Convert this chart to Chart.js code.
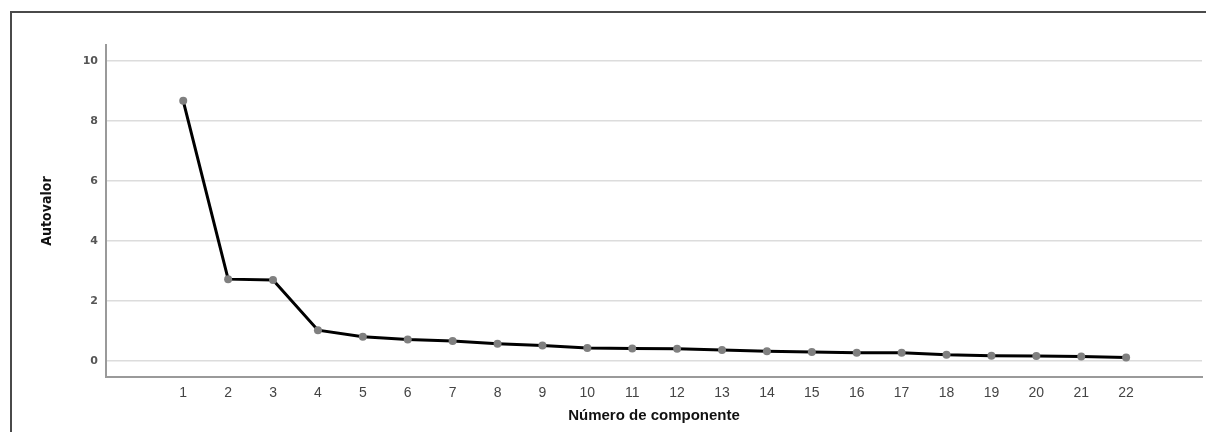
<!DOCTYPE html>
<html lang="es">
<head>
  <meta charset="UTF-8" />
  <title>Gráfico de sedimentación</title>
  <style>
    * { box-sizing: border-box; margin: 0; padding: 0; }
    body { background: #fff; width: 1206px; height: 432px; overflow: hidden; position: relative; }
    #frame {
      position: absolute;
      left: 10px;
      top: 11px;
      width: 1210px;
      height: 440px;
      border-left: 2px solid #4a4a4a;
      border-top: 2px solid #4a4a4a;
      pointer-events: none;
    }
    #chart { position: absolute; left: 0; top: 0; }
  </style>
</head>
<body>
  <canvas id="chart" width="1206" height="432"></canvas>
  <div id="frame"></div>

  <script src="https://cdn.jsdelivr.net/npm/chart.js"></script>
  <script>
    // componentes y autovalores
    const components = [1, 2, 3, 4, 5, 6, 7, 8, 9, 10, 11, 12, 13, 14, 15, 16, 17, 18, 19, 20, 21, 22];
    const eigenvalues = [8.67, 2.73, 2.70, 1.03, 0.81, 0.72, 0.67, 0.58, 0.52, 0.44, 0.42,
                         0.41, 0.37, 0.33, 0.30, 0.28, 0.28, 0.21, 0.18, 0.17, 0.15, 0.12];
    const yTicks = [0, 2, 4, 6, 8, 10];

    const points = components.map((c, i) => ({ x: c, y: eigenvalues[i] }));

    const ctx = document.getElementById('chart').getContext('2d');
    new Chart(ctx, {
      type: 'line',
      data: {
        datasets: [{
          label: 'Autovalor',
          data: points,
          borderColor: '#000',
          borderWidth: 3,
          pointBackgroundColor: '#808080',
          pointBorderWidth: 0,
          pointRadius: 4,
          tension: 0
        }]
      },
      options: {
        responsive: false,
        animation: false,
        layout: { padding: { left: 0, top: 45, right: 4, bottom: 0 } },
        plugins: {
          legend: { display: false },
          tooltip: { enabled: false }
        },
        scales: {
          x: {
            type: 'linear',
            min: -0.72,
            max: 23.69,
            afterBuildTicks: axis => { axis.ticks = components.map(v => ({ value: v })); },
            afterFit: axis => { axis.height = 55; },
            grid: { display: false, drawTicks: false },
            border: { display: true, color: '#9a9a9a', width: 2 },
            ticks: {
              color: '#444',
              padding: 8,
              font: { family: 'Liberation Sans', size: 14 }
            },
            title: {
              display: true,
              text: 'Número de componente',
              color: '#111',
              padding: { top: 0, bottom: 7 },
              font: { family: 'Liberation Sans', size: 15, weight: 'bold' }
            }
          },
          y: {
            min: -0.53,
            max: 10.53,
            afterBuildTicks: axis => { axis.ticks = yTicks.map(v => ({ value: v })); },
            afterFit: axis => { axis.width = 106; },
            grid: { color: '#dcdcdc', lineWidth: 1.5, drawTicks: false },
            border: { display: true, color: '#9a9a9a', width: 2 },
            ticks: {
              color: '#555',
              padding: 8,
              font: { family: 'DejaVu Sans', size: 11, weight: 'bold' }
            },
            title: {
              display: true,
              text: 'Autovalor',
              color: '#111',
              padding: { top: 39, bottom: 0 },
              font: { family: 'DejaVu Sans Condensed', size: 14, weight: 'bold' }
            }
          }
        }
      }
    });
  </script>
</body>
</html>
